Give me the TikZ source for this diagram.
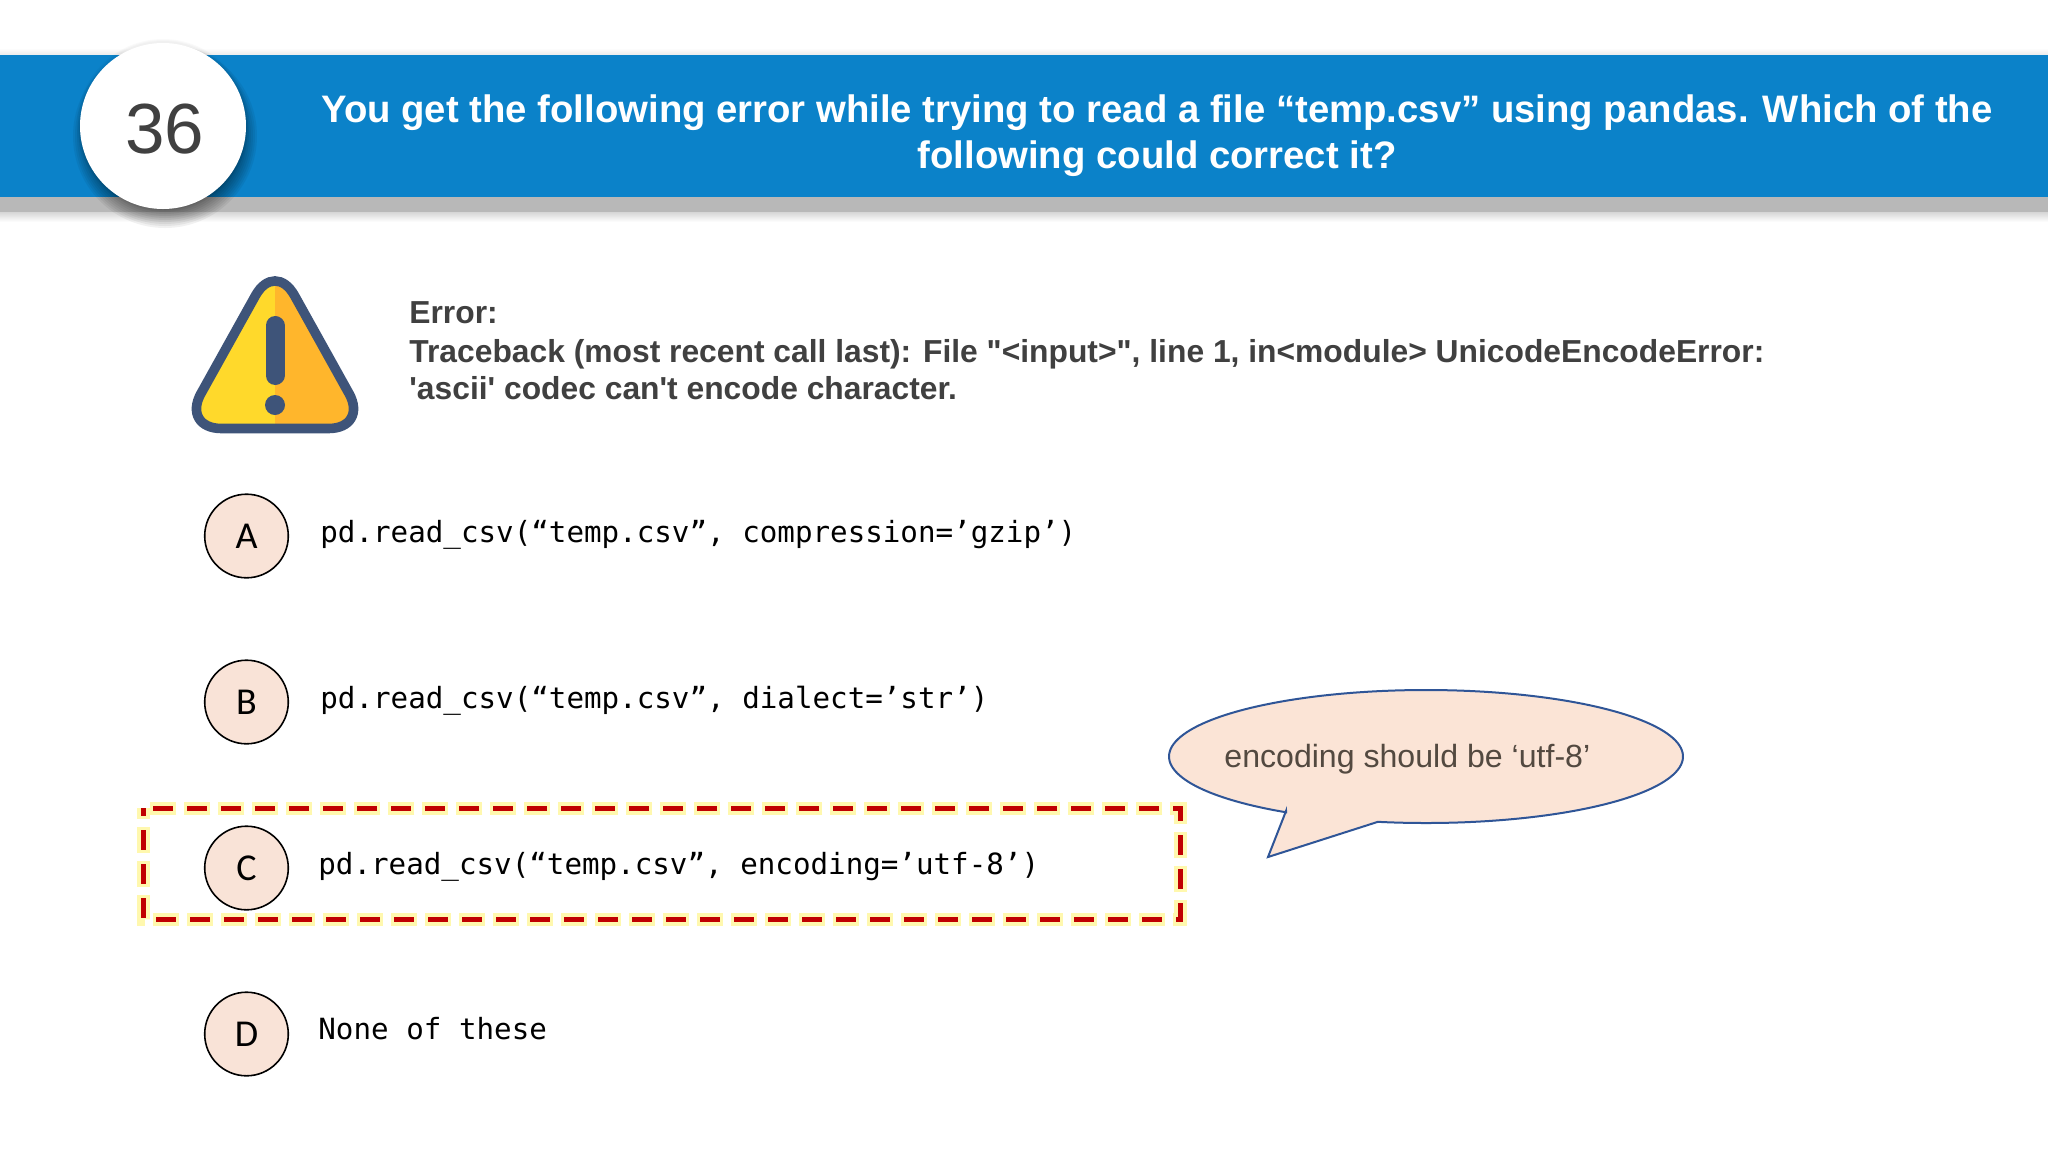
\documentclass[tikz,border=0pt]{standalone}
\usepackage{fontspec}
\setmainfont{Liberation Sans}[Ligatures=TeXOff]
\newfontfamily\carl{Carlito}
\newfontfamily\monof{DejaVu Sans Mono}
\definecolor{bannerblue}{HTML}{0B82C9}
\definecolor{peach}{HTML}{F9E3D7}
\definecolor{calloutfill}{HTML}{FBE4D6}
\definecolor{calloutline}{HTML}{2F5597}
\definecolor{darktext}{HTML}{404040}
\definecolor{warnline}{HTML}{3E5479}
\definecolor{warnleft}{HTML}{FFD92B}
\definecolor{warnright}{HTML}{FFB62C}
\definecolor{dashred}{HTML}{C00000}
\definecolor{glow}{HTML}{FFF8AE}
\tikzset{
  option/.style={circle,draw=black,line width=0.8pt,fill=peach,minimum size=41.8pt,inner sep=0pt,font=\carl\fontsize{19}{19}\selectfont,text=black},
  codetext/.style={anchor=base west,inner sep=0pt,font=\monof\fontsize{14.6}{14.6}\selectfont,text=black},
  errtext/.style={anchor=base west,inner sep=0pt,font=\bfseries\fontsize{15.9}{15.9}\selectfont,text=darktext},
}
\begin{document}
\begin{tikzpicture}[x=0.5pt,y=-0.5pt]
\useasboundingbox (0,0) rectangle (2048,1152);
\fill[white] (0,0) rectangle (2048,1152);
% banner shadows
\shade[top color=white,bottom color=black!8] (0,48) rectangle (2048,55);
\fill[black!28] (0,197) rectangle (2048,212);
\shade[top color=black!16,bottom color=white] (0,212) rectangle (2048,222);
\fill[bannerblue] (0,55) rectangle (2048,197);
% number circle shadow
\foreach \r in {86,85,84}{\fill[black,opacity=0.02] (163,125) circle[radius=\r];}
\foreach \r in {92,90,...,72}{\fill[black,opacity=0.055] (165,136) circle[radius=\r];}
\node[circle,fill=white,minimum size=83pt,inner sep=0pt] (num) at (163,126) {};
\node[inner sep=0pt,text=darktext,font=\fontsize{35.5}{35.5}\selectfont] (numtext) at (164.5,129) {36};
\node[align=center,text=white,inner sep=0pt,font=\bfseries\fontsize{19.15}{23}\selectfont] (title) at (1157,136) {You get the following error while trying to read a file “temp.csv” using pandas. Which of the\\following could correct it?};
% warning icon
\begin{scope}
\clip (275,250) -- (170,440) -- (275,440) -- cycle;
\fill[warnleft,rounded corners=20pt] (275,260.5) -- (181.5,428.5) -- (368.5,428.5) -- cycle;
\end{scope}
\begin{scope}
\clip (275,250) -- (380,440) -- (275,440) -- cycle;
\fill[warnright,rounded corners=20pt] (275,260.5) -- (181.5,428.5) -- (368.5,428.5) -- cycle;
\end{scope}
\draw[warnline,line width=4.8pt,rounded corners=20pt] (275,260.5) -- (181.5,428.5) -- (368.5,428.5) -- cycle;
\draw[warnline,line width=9.5pt,line cap=round] (275,325.5) -- (275,375.5);
\fill[warnline] (275,405) circle[radius=10];
% error text
\node[errtext] (err1) at (409,323) {Error:};
\node[errtext] (err2) at (409,362.5) {Traceback (most recent call last): File "<input>", line 1, in<module> UnicodeEncodeError:};
\node[errtext] (err3) at (409,399.5) {'ascii' codec can't encode character.};
% answer highlight
\draw[glow,line width=6.5pt,dash pattern=on 13pt off 4pt,dash phase=7.5pt] (143,808) rectangle (1180,919);
\draw[dashred,line width=2.5pt,dash pattern=on 10pt off 7pt,dash phase=6pt] (143,808) rectangle (1180,919);
% options
\node[option] (a) at (246.5,536) {A};
\node[option] (b) at (246.5,702) {B};
\node[option] (c) at (246.5,868) {C};
\node[option] (d) at (246.5,1034) {D};
\node[codetext] (ta) at (320,542) {pd.read\_csv(“temp.csv”, compression=’gzip’)};
\node[codetext] (tb) at (320,708) {pd.read\_csv(“temp.csv”, dialect=’str’)};
\node[codetext] (tc) at (318,874) {pd.read\_csv(“temp.csv”, encoding=’utf-8’)};
\node[codetext] (td) at (318,1039) {None of these};
% callout
\draw[calloutline,fill=calloutfill,line width=1pt,line join=miter]
  (1268,857) -- (1286,811) -- plot[domain=123:460.8,samples=160,smooth] ({1426+257*cos(\x)},{756.5+66.5*sin(\x)}) -- cycle;
\node[anchor=base west,inner sep=0pt,text=darktext!85!brown,font=\fontsize{16.05}{16.05}\selectfont] (calltext) at (1224,767) {encoding should be ‘utf-8’};
\end{tikzpicture}
\end{document}
